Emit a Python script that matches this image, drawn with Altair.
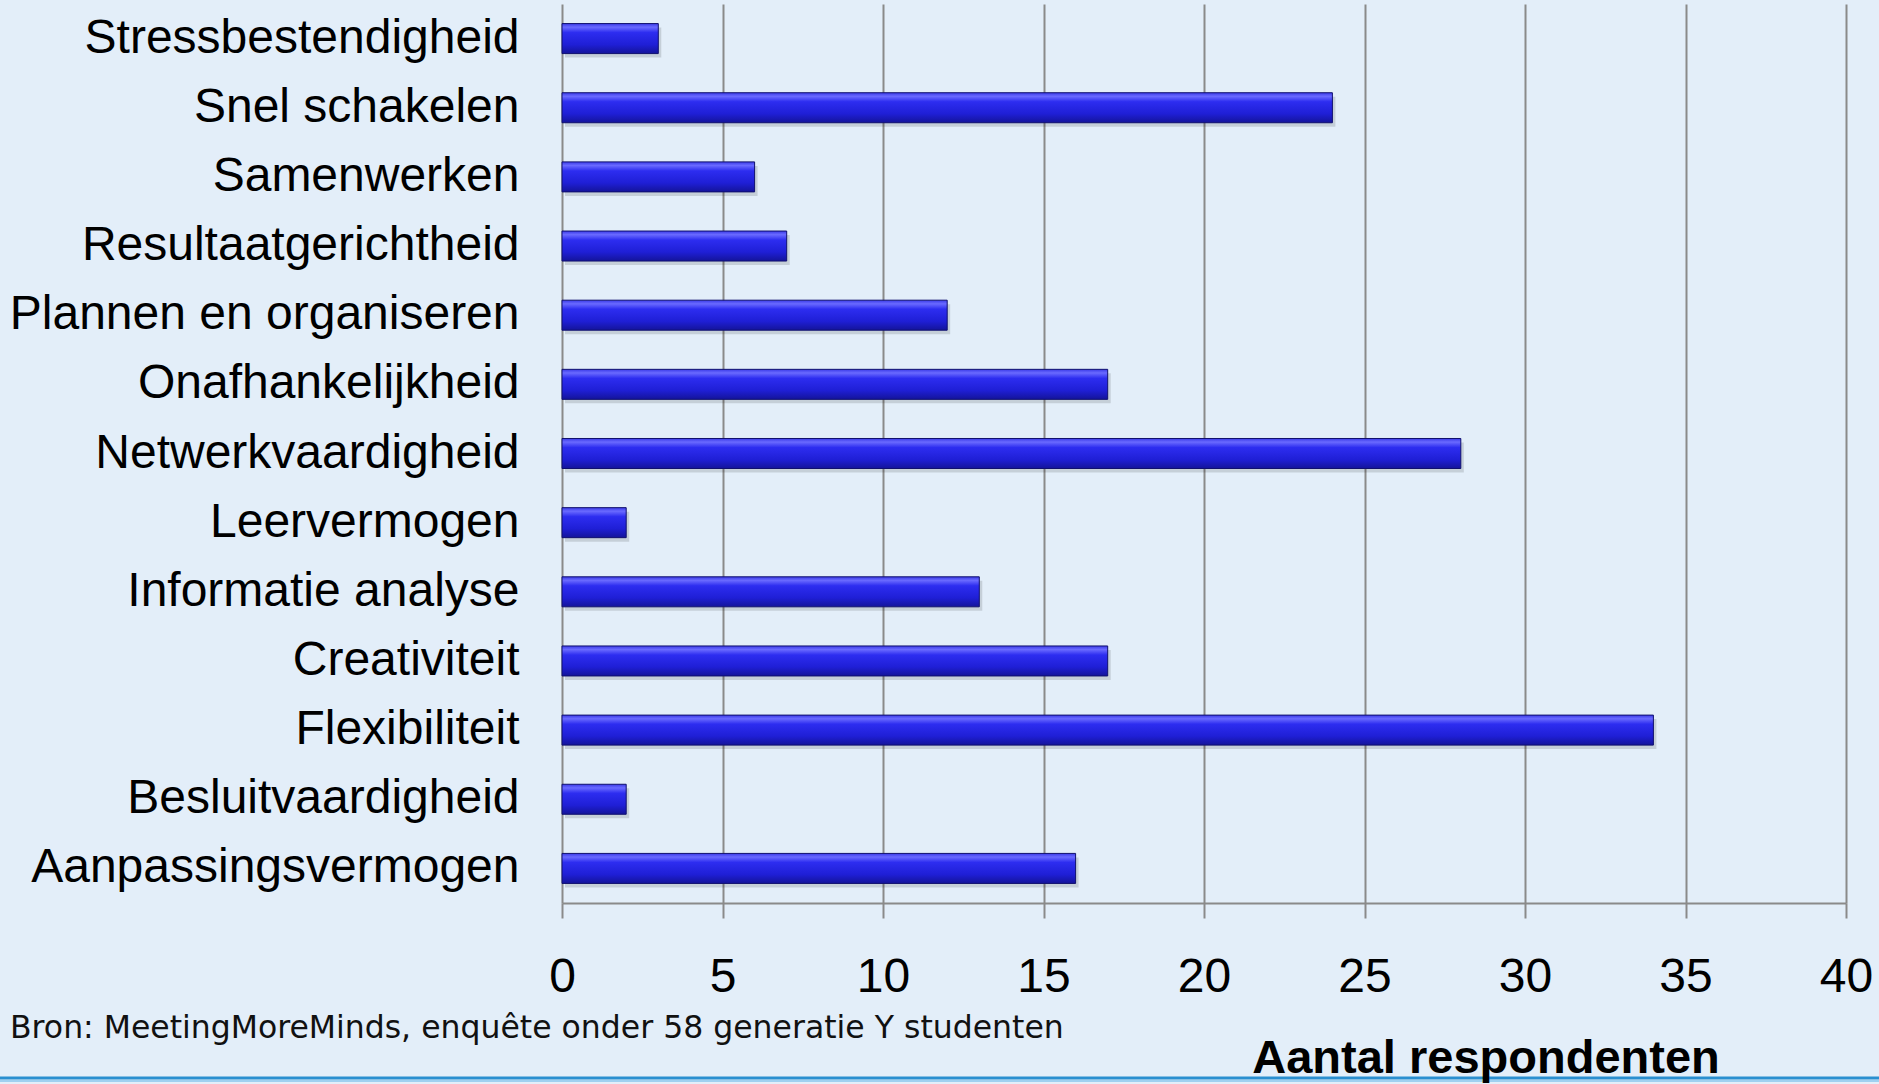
import altair as alt
import pandas as pd

# Survey results: number of respondents naming each competence
skills = [
    "Stressbestendigheid",
    "Snel schakelen",
    "Samenwerken",
    "Resultaatgerichtheid",
    "Plannen en organiseren",
    "Onafhankelijkheid",
    "Netwerkvaardigheid",
    "Leervermogen",
    "Informatie analyse",
    "Creativiteit",
    "Flexibiliteit",
    "Besluitvaardigheid",
    "Aanpassingsvermogen",
]
respondents = [3, 24, 6, 7, 12, 17, 28, 2, 13, 17, 34, 2, 16]
x_ticks = [0, 5, 10, 15, 20, 25, 30, 35, 40]
x_title = "Aantal respondenten"
source_note = "Bron: MeetingMoreMinds, enquête onder 58 generatie Y studenten"

df = pd.DataFrame({"skill": skills, "n": respondents})

W, H = 1284, 899
PAD = {"left": 562, "top": 4, "right": 33, "bottom": 181}
FONT = "Liberation Sans"
GRID = "#8a8a8a"

y_enc = alt.Y(
    "skill:N",
    sort=skills,
    scale=alt.Scale(paddingInner=0.566, paddingOuter=0.283),
    axis=alt.Axis(
        title=None,
        domain=False,
        ticks=False,
        labelFont=FONT,
        labelFontSize=48,
        labelColor="#000000",
        labelPadding=43,
        labelLimit=600,
    ),
)

x_enc = alt.X(
    "n:Q",
    scale=alt.Scale(domain=[0, 40], nice=False),
    axis=alt.Axis(
        values=x_ticks,
        format="d",
        grid=True,
        gridColor=GRID,
        gridWidth=2,
        domainColor=GRID,
        domainWidth=2,
        tickColor=GRID,
        tickWidth=2,
        tickSize=15,
        labelFont=FONT,
        labelFontSize=48,
        labelColor="#000000",
        labelPadding=35,
        labelFlush=False,
        title=None,
    ),
)

bar_fill = alt.Gradient(
    gradient="linear",
    x1=0, x2=0, y1=0, y2=1,
    stops=[
        alt.GradientStop(color="#3a3ae8", offset=0.0),
        alt.GradientStop(color="#6a6aff", offset=0.12),
        alt.GradientStop(color="#2d2df0", offset=0.3),
        alt.GradientStop(color="#1f1fd6", offset=0.7),
        alt.GradientStop(color="#14149a", offset=1.0),
    ],
)

shadow = alt.Chart(df).mark_bar(
    color="#000000", opacity=0.13, xOffset=3, yOffset=4
).encode(x=x_enc, y=y_enc)

bars = alt.Chart(df).mark_bar(
    fill=bar_fill, stroke="#10106e", strokeWidth=1
).encode(x=x_enc, y=y_enc, tooltip=["skill:N", "n:Q"])

note = alt.Chart(pd.DataFrame({"note": [source_note]})).mark_text(
    font="DejaVu Sans", fontSize=31.5, color="#111111", align="left", baseline="alphabetic"
).encode(text="note:N", x=alt.value(-552), y=alt.value(1034))

footer_line = alt.Chart(pd.DataFrame({"k": [0]})).mark_rule(
    color="#2a8fd0", strokeWidth=3
).encode(x=alt.value(-562), x2=alt.value(1317), y=alt.value(1074))

footer_glow = alt.Chart(pd.DataFrame({"k": [0]})).mark_rule(
    color="#9fd0f0", strokeWidth=2
).encode(x=alt.value(-562), x2=alt.value(1317), y=alt.value(1077))

# Axis caption drawn above the footer rule
caption = alt.Chart(pd.DataFrame({"t": [x_title]})).mark_text(
    font=FONT, fontSize=47, fontWeight="bold", color="#000000",
    align="center", baseline="alphabetic"
).encode(text="t:N", x=alt.value(924), y=alt.value(1069))

chart = (
    alt.layer(shadow, bars, footer_line, footer_glow, note, caption)
    .properties(
        width=W,
        height=H,
        padding=PAD,
        autosize=alt.AutoSizeParams(type="none"),
        background="#e3eef9",
    )
    .configure_view(stroke=None)
)

chart.save("out.html", embed_options={"renderer": "svg", "actions": False})
